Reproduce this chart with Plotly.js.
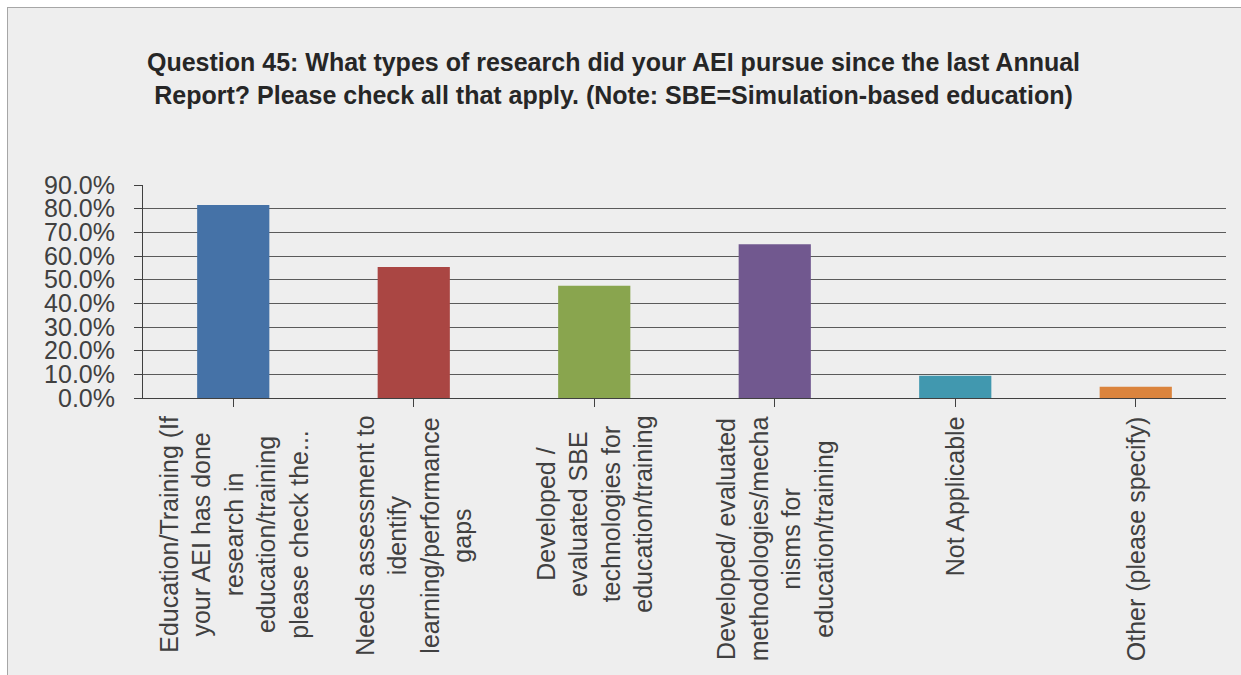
<!DOCTYPE html>
<html>
<head>
<meta charset="utf-8">
<script src="https://cdn.plot.ly/plotly-3.0.1.min.js"></script>
<style>
html, body { margin: 0; padding: 0; background: #ffffff; overflow: hidden; }
#chart { position: absolute; left: 7px; top: 7px; width: 1234px; height: 668px;
         border-left: 1px solid #a6a6a6; border-top: 1px solid #a6a6a6; }
</style>
</head>
<body>
<div id="chart"></div>
<script>
const categories = [
  "Education/Training (If<br>your AEI has done<br>research in<br>education/training<br>please check the...",
  "Needs assessment to<br>identify<br>learning/performance<br>gaps",
  "Developed /<br>evaluated SBE<br>technologies for<br>education/training",
  "Developed/ evaluated<br>methodologies/mecha<br>nisms for<br>education/training",
  "Not Applicable",
  "Other (please specify)"
];
const values = [81.5, 55.3, 47.4, 65.0, 9.4, 4.8];
const barColors = ["#4572A7", "#AA4643", "#89A54E", "#71588F", "#4198AF", "#DB843D"];
const titleText = "Question 45: What types of research did your AEI pursue since the last Annual<br>Report? Please check all that apply. (Note: SBE=Simulation-based education)";

const FONT = "Liberation Sans, Arial, sans-serif";
const xIdx = categories.map((c, i) => i);

const trace = {
  type: "bar",
  x: xIdx,
  y: values,
  marker: { color: barColors, line: { width: 0 } },
  hoverinfo: "skip"
};

const annotations = categories.map((c, i) => ({
  x: i, xref: "x", y: 0, yref: "paper",
  text: c, showarrow: false, textangle: -90,
  xanchor: "center", yanchor: "top", yshift: -16, align: "center",
  font: { family: FONT, size: 25, color: "#404040" }
}));

const layout = {
  width: 1234, height: 668,
  paper_bgcolor: "#eeeeee", plot_bgcolor: "#eeeeee",
  margin: { l: 135, r: 16, t: 177, b: 278 },
  showlegend: false,
  bargap: 0.6,
  title: {
    text: titleText,
    font: { family: FONT, size: 25, color: "#262626", weight: "bold" },
    x: 0.4907, xref: "container", xanchor: "center",
    y: 0.905, yref: "container", yanchor: "top"
  },
  xaxis: {
    range: [-0.5, 5.5],
    tickvals: xIdx, showticklabels: false,
    ticks: "outside", tickson: "boundaries", ticklen: 8, tickcolor: "#404040",
    showgrid: false, showline: true, linecolor: "#404040", linewidth: 1,
    zeroline: false
  },
  yaxis: {
    range: [0, 90], dtick: 10, tick0: 0,
    tickformat: ".1f", ticksuffix: "%",
    ticks: "outside", ticklen: 8, tickcolor: "#404040",
    ticklabelstandoff: 14,
    tickfont: { family: FONT, size: 25, color: "#404040" },
    showgrid: true, gridcolor: "#5a5a5a", gridwidth: 1,
    showline: true, linecolor: "#404040", linewidth: 1,
    zeroline: false
  },
  annotations: annotations
};

Plotly.newPlot("chart", [trace], layout, { displayModeBar: false, staticPlot: true });
</script>
</body>
</html>
